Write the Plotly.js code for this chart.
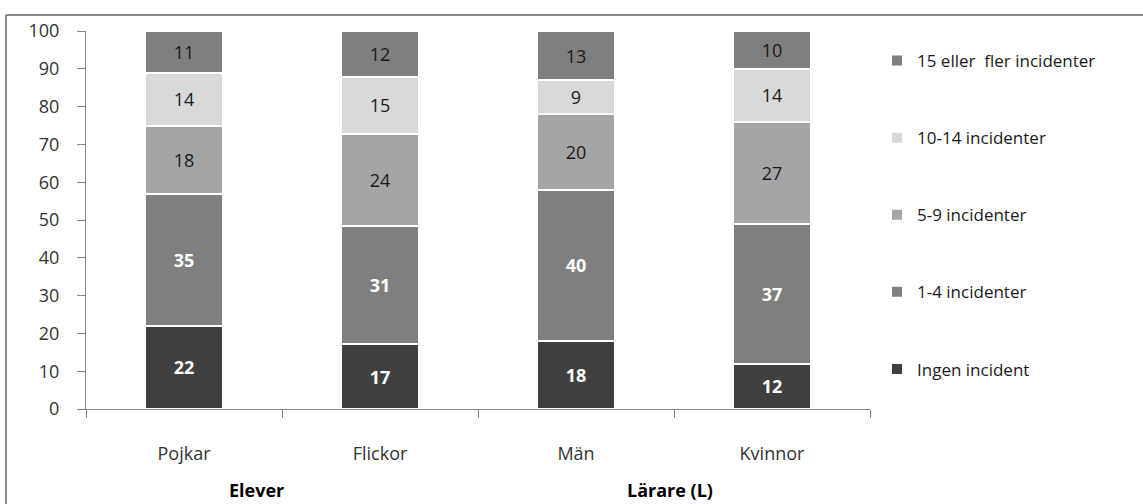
<!DOCTYPE html>
<html>
<head>
<meta charset="utf-8">
<script src="https://cdn.plot.ly/plotly-3.0.1.min.js"></script>
<style>
html,body{margin:0;padding:0;background:#fff;}
#chart{width:1143px;height:504px;}
</style>
</head>
<body>
<div id="chart"></div>
<script>
const categories = ["Pojkar", "Flickor", "Män", "Kvinnor"];
const seriesNames = ["Ingen incident", "1-4 incidenter", "5-9 incidenter", "10-14 incidenter", "15 eller  fler incidenter"];
const ingen = [22, 17, 18, 12];
const inc1_4 = [35, 31, 40, 37];
const inc5_9 = [18, 24, 20, 27];
const inc10_14 = [14, 15, 9, 14];
const inc15plus = [11, 12, 13, 10];
const yTicks = [0, 10, 20, 30, 40, 50, 60, 70, 80, 90, 100];
const groupLabels = ["Elever", "Lärare (L)"];

const seriesValues = [ingen, inc1_4, inc5_9, inc10_14, inc15plus];
const colors = ["#404040", "#7f7f7f", "#a5a5a5", "#d9d9d9", "#7f7f7f"];
const labelStyles = [
  {color: "#ffffff", weight: "bold"},
  {color: "#ffffff", weight: "bold"},
  {color: "#1a1a1a", weight: "normal"},
  {color: "#1a1a1a", weight: "normal"},
  {color: "#1a1a1a", weight: "normal"}
];
const FONT = "Open Sans, Liberation Sans, sans-serif";

const traces = seriesValues.map((vals, i) => ({
  type: "bar",
  name: seriesNames[i],
  x: categories,
  y: vals,
  text: vals.map(String),
  texttemplate: "%{text}",
  textposition: "inside",
  insidetextanchor: "middle",
  constraintext: "none",
  textangle: 0,
  textfont: {family: FONT, size: 18, color: labelStyles[i].color, weight: labelStyles[i].weight},
  marker: {color: colors[i], line: {color: "#ffffff", width: 2}},
  width: 0.4,
  legendgroup: "g" + i,
  legendrank: 1000 - i,
  hoverinfo: "skip"
}));

// plot area geometry (px) used for the frame line shapes
const L = 86, R = 870, T = 31, B = 409;
const W = R - L, H = B - T;
const px = v => (v - L) / W;
const py = v => (B - v) / H;

const layout = {
  width: 1143, height: 504,
  margin: {l: L, r: 1143 - R, t: T, b: 504 - B},
  paper_bgcolor: "#ffffff",
  plot_bgcolor: "#ffffff",
  barmode: "stack",
  barnorm: "percent",
  font: {family: FONT, color: "#333333", size: 16},
  showlegend: true,
  legend: {
    x: px(877), xanchor: "left",
    y: py(43), yanchor: "top",
    traceorder: "grouped",
    tracegroupgap: 52,
    font: {family: FONT, size: 17, color: "#1a1a1a"},
    bgcolor: "rgba(0,0,0,0)"
  },
  xaxis: {
    type: "category",
    range: [-0.5, 3.5],
    showline: true, linecolor: "#868686", linewidth: 1,
    ticks: "outside", tickson: "boundaries", ticklen: 8, tickcolor: "#868686",
    ticklabelstandoff: 28,
    tickfont: {family: FONT, size: 18, color: "#333333"},
    showgrid: false, zeroline: false, fixedrange: true
  },
  yaxis: {
    range: [0, 100],
    tickvals: yTicks,
    ticktext: yTicks.map(String),
    showline: true, linecolor: "#868686", linewidth: 1,
    ticks: "outside", ticklen: 8, tickcolor: "#868686",
    ticklabelstandoff: 14,
    tickfont: {family: FONT, size: 18, color: "#333333"},
    showgrid: false, zeroline: false, fixedrange: true
  },
  annotations: [
    {text: groupLabels[0], xref: "paper", yref: "paper", x: px(256), y: py(490), xanchor: "center", yanchor: "middle", showarrow: false, borderpad: 0, font: {family: FONT, size: 18, color: "#000000", weight: "bold"}},
    {text: groupLabels[1], xref: "paper", yref: "paper", x: px(670), y: py(490), xanchor: "center", yanchor: "middle", showarrow: false, borderpad: 0, font: {family: FONT, size: 18, color: "#000000", weight: "bold"}}
  ],
  shapes: [
    {type: "line", xref: "paper", yref: "paper", x0: px(6), x1: px(6), y0: py(15), y1: py(520), line: {color: "#898989", width: 2}},
    {type: "line", xref: "paper", yref: "paper", x0: px(6), x1: px(1150), y0: py(15), y1: py(15), line: {color: "#898989", width: 2}}
  ]
};

Plotly.newPlot("chart", traces, layout, {staticPlot: true, displayModeBar: false});
</script>
</body>
</html>
